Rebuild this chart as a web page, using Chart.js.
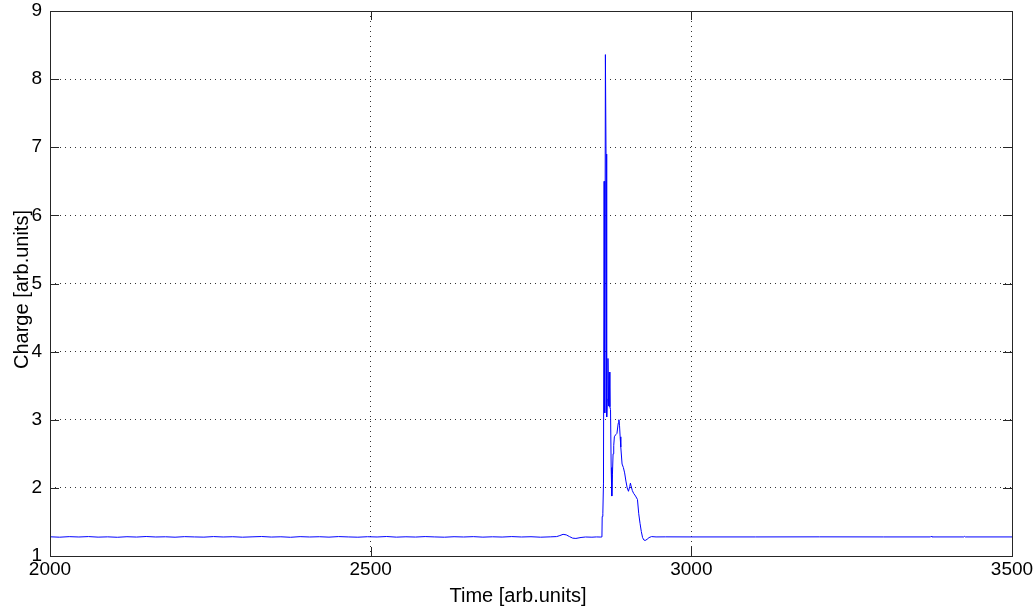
<!DOCTYPE html>
<html>
<head>
<meta charset="utf-8">
<script src="https://cdn.jsdelivr.net/npm/chart.js@4/dist/chart.umd.min.js"></script>
<style>
  html, body { margin: 0; padding: 0; background: #ffffff; }
  #wrap { width: 1036px; height: 609px; position: relative; }
  canvas { display: block; }
</style>
</head>
<body>
<div id="wrap"><canvas id="chart" width="1036" height="609"></canvas></div>
<script>
// Sample times of the recorded trace
const time = [
  2000, 2015, 2030, 2045, 2060, 2075, 2090, 2105, 2120, 2135, 2150, 2165, 2180, 2195,
  2210, 2225, 2240, 2255, 2270, 2285, 2300, 2315, 2330, 2345, 2360, 2375, 2390, 2405,
  2420, 2435, 2450, 2465, 2480, 2495, 2510, 2525, 2540, 2555, 2570, 2585, 2600, 2615,
  2630, 2645, 2660, 2675, 2690, 2705, 2720, 2735, 2750, 2765, 2780,
  2790, 2795, 2800, 2805, 2810, 2815, 2820, 2828, 2835, 2845, 2852, 2859, 2860.6,
  2861, 2862, 2863, 2864, 2865, 2866, 2867, 2868, 2869, 2870, 2871, 2872, 2873, 2874,
  2875, 2876, 2877, 2878, 2879, 2880, 2882, 2884, 2886, 2887, 2888, 2889, 2890, 2892,
  2894, 2896, 2898, 2900, 2902, 2904, 2905, 2906, 2908, 2910, 2913, 2916, 2918, 2920,
  2922, 2924, 2926, 2928, 2931, 2934, 2938, 2945,
  2960, 3000, 3100, 3200, 3300, 3373, 3374, 3375, 3425, 3426, 3427, 3500
];

// Charge measured at each sample time
const charge = [
  1.282, 1.276, 1.284, 1.279, 1.285, 1.277, 1.281, 1.275, 1.283, 1.278, 1.286, 1.279, 1.282, 1.276,
  1.284, 1.280, 1.277, 1.285, 1.279, 1.283, 1.276, 1.281, 1.286, 1.278, 1.282, 1.275, 1.284, 1.279,
  1.283, 1.277, 1.285, 1.280, 1.276, 1.283, 1.279, 1.286, 1.277, 1.282, 1.278, 1.285, 1.280, 1.276,
  1.283, 1.279, 1.284, 1.277, 1.282, 1.278, 1.285, 1.279, 1.283, 1.276, 1.281,
  1.285, 1.300, 1.318, 1.310, 1.285, 1.262, 1.258, 1.272, 1.279, 1.276, 1.280, 1.278, 1.280,
  1.58, 1.62, 2.07, 6.50, 3.10, 8.36, 6.90, 3.04, 3.30, 3.90, 3.20, 3.70, 3.19, 3.15,
  2.30, 1.88, 2.20, 2.50, 2.62, 2.75, 2.78, 2.80, 2.95, 3.00, 2.92, 2.75, 2.60, 2.35,
  2.30, 2.22, 2.10, 2.00, 1.95, 2.02, 2.07, 2.03, 1.96, 1.92, 1.88, 1.83, 1.62, 1.48,
  1.36, 1.27, 1.235, 1.228, 1.245, 1.270, 1.285, 1.280,
  1.281, 1.280, 1.280, 1.281, 1.280, 1.280, 1.290, 1.280, 1.280, 1.288, 1.280, 1.280
];

// Axis ranges and tick labels
const xTicks = [2000, 2500, 3000, 3500];
const yTicks = [1, 2, 3, 4, 5, 6, 7, 8, 9];
const xLabel = 'Time [arb.units]';
const yLabel = 'Charge [arb.units]';

const FONT = 'Liberation Sans, Arial, Helvetica, sans-serif';
const points = time.map((t, i) => ({ x: t, y: charge[i] }));

// Box frame with inward tick marks on all four sides, plus axis titles
const framePlugin = {
  id: 'frame',
  afterDraw(chart) {
    const { ctx, chartArea: a, scales } = chart;
    const len = 9;
    ctx.save();
    ctx.strokeStyle = '#262626';
    ctx.lineWidth = 1;
    ctx.beginPath();
    xTicks.forEach(v => {
      const px = Math.round(scales.x.getPixelForValue(v)) + 0.5;
      ctx.moveTo(px, a.bottom); ctx.lineTo(px, a.bottom - len);
      ctx.moveTo(px, a.top); ctx.lineTo(px, a.top + len);
    });
    yTicks.forEach(v => {
      const py = Math.round(scales.y.getPixelForValue(v)) + 0.5;
      ctx.moveTo(a.left, py); ctx.lineTo(a.left + len, py);
      ctx.moveTo(a.right, py); ctx.lineTo(a.right - len, py);
    });
    ctx.stroke();
    ctx.strokeRect(Math.round(a.left) + 0.5, Math.round(a.top) + 0.5,
                   Math.round(a.right - a.left), Math.round(a.bottom - a.top));

    ctx.fillStyle = '#000';
    ctx.font = '20px ' + FONT;
    ctx.textAlign = 'center';
    ctx.textBaseline = 'alphabetic';
    ctx.fillText(xLabel, (a.left + a.right) / 2 - 13, 602);
    ctx.translate(28, (a.top + a.bottom) / 2 + 6);
    ctx.rotate(-Math.PI / 2);
    ctx.fillText(yLabel, 0, 0);
    ctx.restore();
  }
};

const tickFont = { family: FONT, size: 19, lineHeight: 1 };

new Chart(document.getElementById('chart'), {
  type: 'line',
  data: {
    datasets: [{
      data: points,
      borderColor: 'rgb(0,0,255)',
      borderWidth: 1,
      pointRadius: 0,
      tension: 0,
      fill: false
    }]
  },
  options: {
    responsive: false,
    animation: false,
    devicePixelRatio: 1,
    layout: { padding: { left: 0, right: 24, top: 11, bottom: 0 } },
    plugins: { legend: { display: false }, tooltip: { enabled: false } },
    scales: {
      x: {
        type: 'linear',
        min: 2000,
        max: 3500,
        afterFit(scale) {
          scale.height = 53;
          scale.paddingLeft = 0; scale.paddingRight = 0;
        },
        afterBuildTicks(scale) { scale.ticks = xTicks.map(v => ({ value: v })); },
        ticks: {
          color: '#000', font: tickFont, padding: 4, maxRotation: 0,
          callback: v => String(v)
        },
        grid: { color: 'rgba(0,0,0,0.8)', drawTicks: false, lineWidth: 1 },
        border: { display: false, dash: [1, 4] }
      },
      y: {
        type: 'linear',
        min: 1,
        max: 9,
        afterFit(scale) {
          scale.width = 50;
          scale.paddingTop = 0; scale.paddingBottom = 0;
        },
        afterBuildTicks(scale) { scale.ticks = yTicks.map(v => ({ value: v })); },
        ticks: { color: '#000', font: tickFont, padding: 8, callback: v => String(v) },
        grid: { color: 'rgba(0,0,0,0.8)', drawTicks: false, lineWidth: 1 },
        border: { display: false, dash: [1, 4] }
      }
    }
  },
  plugins: [framePlugin]
});
</script>
</body>
</html>
